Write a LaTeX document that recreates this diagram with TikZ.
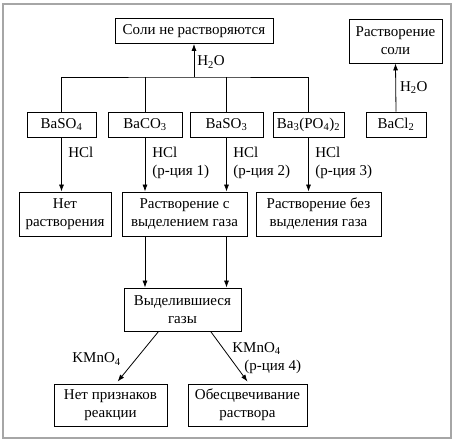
\documentclass[tikz,border=0pt]{standalone}
\usepackage{fontspec}
\setmainfont{Liberation Serif}
\usetikzlibrary{positioning, arrows.meta}
\tikzset{
    block/.style={
        draw, inner sep = 2pt,
        minimum height = 25pt,
        align = center,
        font = \rmfamily\fontsize{15}{18}\selectfont
    },
    label/.style = {inner sep = 0pt, align = left, font = \rmfamily\fontsize{15}{18}\selectfont},
    line/.style = {-{Latex[length=7pt,width=5pt]}}
}
\begin{document}
\begin{tikzpicture}[x=1pt, y=-1pt, line width=0.8pt]

                        \useasboundingbox (0,0) rectangle (456,443);
                        \draw[gray!70, line width=1.3pt] (3,4) rectangle (451,438);

                        % Top results
                        \node[block, minimum width=158pt] (insol) at (194,31) {Соли не растворяются};
                        \node[block, minimum width=93pt, minimum height=44pt] (dissolved) at (395.5,41) {Растворение\\соли};

                        % Salts
                        \node[block, minimum width=69pt] (baso4) at (61.5,124.5) {BaSO\textsubscript{4}};
                        \node[block, minimum width=74pt] (baco3) at (145,124.5) {BaCO\textsubscript{3}};
                        \node[block, minimum width=73pt] (baso3) at (226.5,124.5) {BaSO\textsubscript{3}};
                        \node[block, minimum width=71pt] (bapo4) at (308.5,124.5) {Ba\textsubscript{3}(PO\textsubscript{4})\textsubscript{2}};
                        \node[block, minimum width=60pt] (bacl2) at (396,124.5) {BaCl\textsubscript{2}};

                        % Acid results
                        \node[block, minimum width=92pt, minimum height=44pt] (nodiss) at (65,214) {Нет\\растворения};
                        \node[block, minimum width=125pt, minimum height=44pt] (gasdiss) at (184.5,214) {Растворение с\\выделением газа};
                        \node[block, minimum width=125pt, minimum height=44pt] (nogas) at (318.5,214) {Растворение без\\выделения газа};

                        % Gases
                        \node[block, minimum width=117pt, minimum height=43pt] (gases) at (182.5,309.5) {Выделившиеся\\газы};
                        \node[block, minimum width=113pt, minimum height=42pt] (noreact) at (110.5,405) {Нет признаков\\реакции};
                        \node[block, minimum width=119pt, minimum height=42pt] (decolor) at (247.5,405) {Обесцвечивание\\раствора};

                        % Lines
                        \coordinate (split) at (194,77);
                        \draw[line] (split) -- (insol.south) node[label, anchor=west, pos=0.45, xshift=3pt]{H\textsubscript{2}O};
                        \draw (baso4.north) |- (split) -| (bapo4.north);
                        \draw (baco3.north) -- (baco3.north |- split);
                        \draw (baso3.north) -- (baso3.north |- split);
                        \draw[line] (bacl2.north) -- (dissolved.south) node[label, anchor=west, midway, xshift=4pt]{H\textsubscript{2}O};

                        \draw[line] (baso4.south) -- (baso4.south |- nodiss.north);
                        \draw[line] (baco3.south) -- (baco3.south |- gasdiss.north);
                        \draw[line] (baso3.south) -- (baso3.south |- gasdiss.north);
                        \draw[line] (bapo4.south) -- (bapo4.south |- nogas.north);
                        \node[label, anchor=north west] (hcl0) at (68,147) {HCl};
                        \node[label, anchor=north west] (hcl1) at (152,147) {HCl\\(р-ция 1)};
                        \node[label, anchor=north west] (hcl2) at (233,147) {HCl\\(р-ция 2)};
                        \node[label, anchor=north west] (hcl3) at (315,147) {HCl\\(р-ция 3)};

                        \draw[line] (gasdiss.south -| baco3) -- (gases.north -| baco3);
                        \draw[line] (gasdiss.south -| baso3) -- (gases.north -| baso3);

                        \draw[line] ([xshift=35pt]gases.south west) -- ([xshift=64pt, yshift=2pt]noreact.north west);
                        \draw[line] ([xshift=87pt]gases.south west) -- ([yshift=2pt]decolor.north);
                        \node[label, anchor=east] (kmno1) at (121,359) {KMnO\textsubscript{4}};
                        \node[label, anchor=north west] (kmno2) at (232,342) {KMnO\textsubscript{4}\\\hspace{12pt}(р-ция 4)};

                    \end{tikzpicture}
\end{document}
